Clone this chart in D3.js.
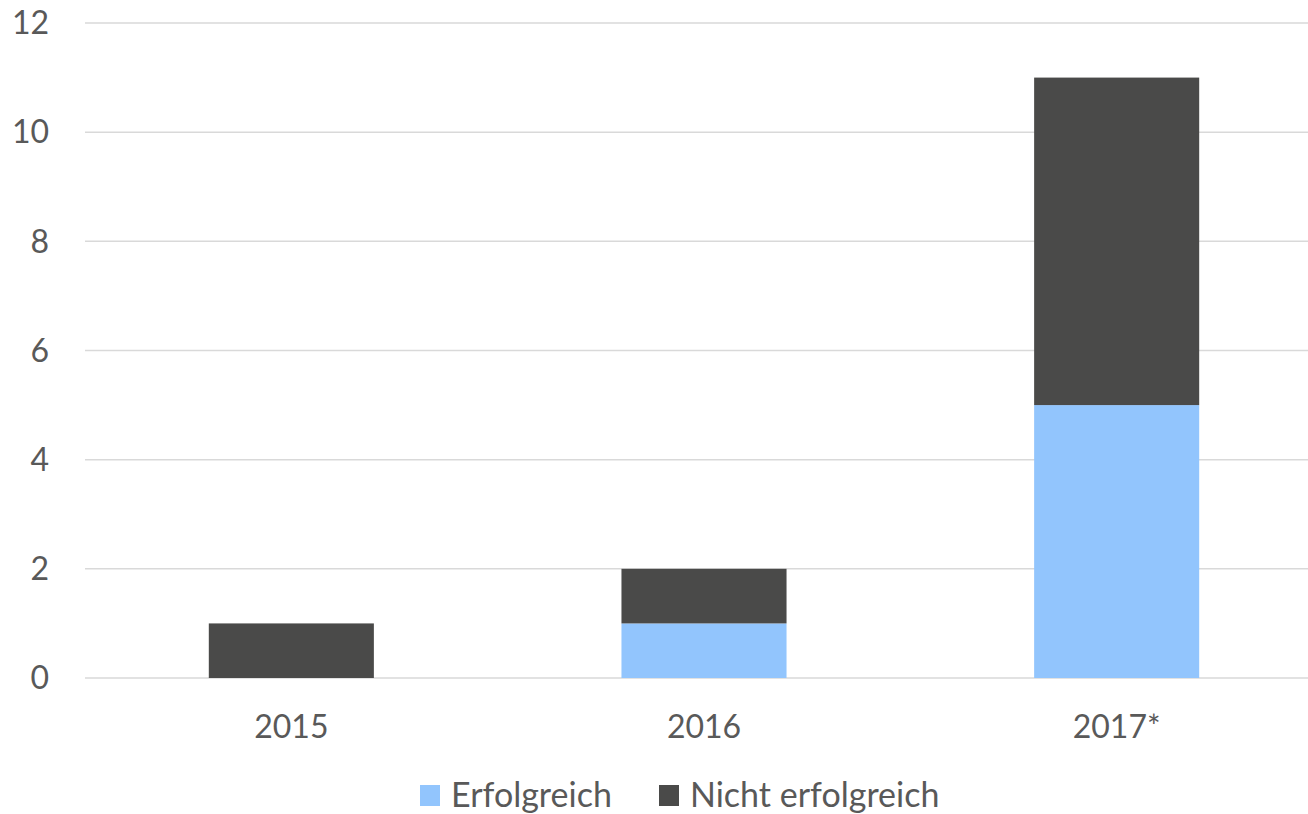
<!DOCTYPE html>
<html>
<head>
<meta charset="utf-8">
<script src="https://cdn.jsdelivr.net/npm/d3@7"></script>
<style>
  html, body { margin: 0; padding: 0; background: #fff; }
  svg { display: block; font-family: Lato, "Open Sans", sans-serif; }
</style>
</head>
<body>
<svg id="chart" width="1308" height="814"></svg>
<script>
// data
const years = ['2015', '2016', '2017*'];
const erfolgreich = [0, 1, 5];
const nichtErfolgreich = [1, 1, 6];
const seriesNames = ['Erfolgreich', 'Nicht erfolgreich'];
const yTicks = [0, 2, 4, 6, 8, 10, 12];

const colors = ['#92C5FD', '#4A4A49'];
const textColor = '#595959';

const svg = d3.select('#chart');
const plot = { left: 85, right: 1323, top: 23, bottom: 678 };

const x = d3.scaleBand().domain(years).range([plot.left, plot.right]).paddingInner(0.6).paddingOuter(0.3);
const y = d3.scaleLinear().domain([0, 12]).range([plot.bottom, plot.top]);

// gridlines
svg.append('g').selectAll('line').data(yTicks).enter().append('line')
  .attr('x1', plot.left).attr('x2', 1308)
  .attr('y1', d => y(d)).attr('y2', d => y(d))
  .attr('stroke', '#d9d9d9').attr('stroke-width', 1.5);

// y labels
svg.append('g').selectAll('text').data(yTicks).enter().append('text')
  .attr('x', 49).attr('y', d => y(d))
  .attr('dy', '0.35em')
  .attr('text-anchor', 'end')
  .attr('font-size', 32).attr('fill', textColor)
  .text(d => d);

// stacked bars
const rows = years.map((yr, i) => ({ year: yr, a: erfolgreich[i], b: nichtErfolgreich[i] }));
const stack = d3.stack().keys(['a', 'b'])(rows);

svg.append('g').selectAll('g').data(stack).enter().append('g')
  .attr('fill', (d, i) => colors[i])
  .selectAll('rect').data(d => d).enter().append('rect')
  .attr('x', d => x(d.data.year))
  .attr('width', x.bandwidth())
  .attr('y', d => y(d[1]))
  .attr('height', d => y(d[0]) - y(d[1]));

// x labels
svg.append('g').selectAll('text').data(years).enter().append('text')
  .attr('x', d => x(d) + x.bandwidth() / 2)
  .attr('y', 738)
  .attr('text-anchor', 'middle')
  .attr('font-size', 32).attr('fill', textColor)
  .text(d => d);

// legend
const legendX = [420, 659];
const legend = svg.append('g').selectAll('g').data(seriesNames).enter().append('g')
  .attr('transform', (d, i) => `translate(${legendX[i]},0)`);
legend.append('rect')
  .attr('x', 0).attr('y', 785).attr('width', 20).attr('height', 21)
  .attr('fill', (d, i) => colors[i]);
legend.append('text')
  .attr('x', 31).attr('y', 807)
  .attr('font-size', 34).attr('fill', textColor)
  .text(d => d);
</script>
</body>
</html>
